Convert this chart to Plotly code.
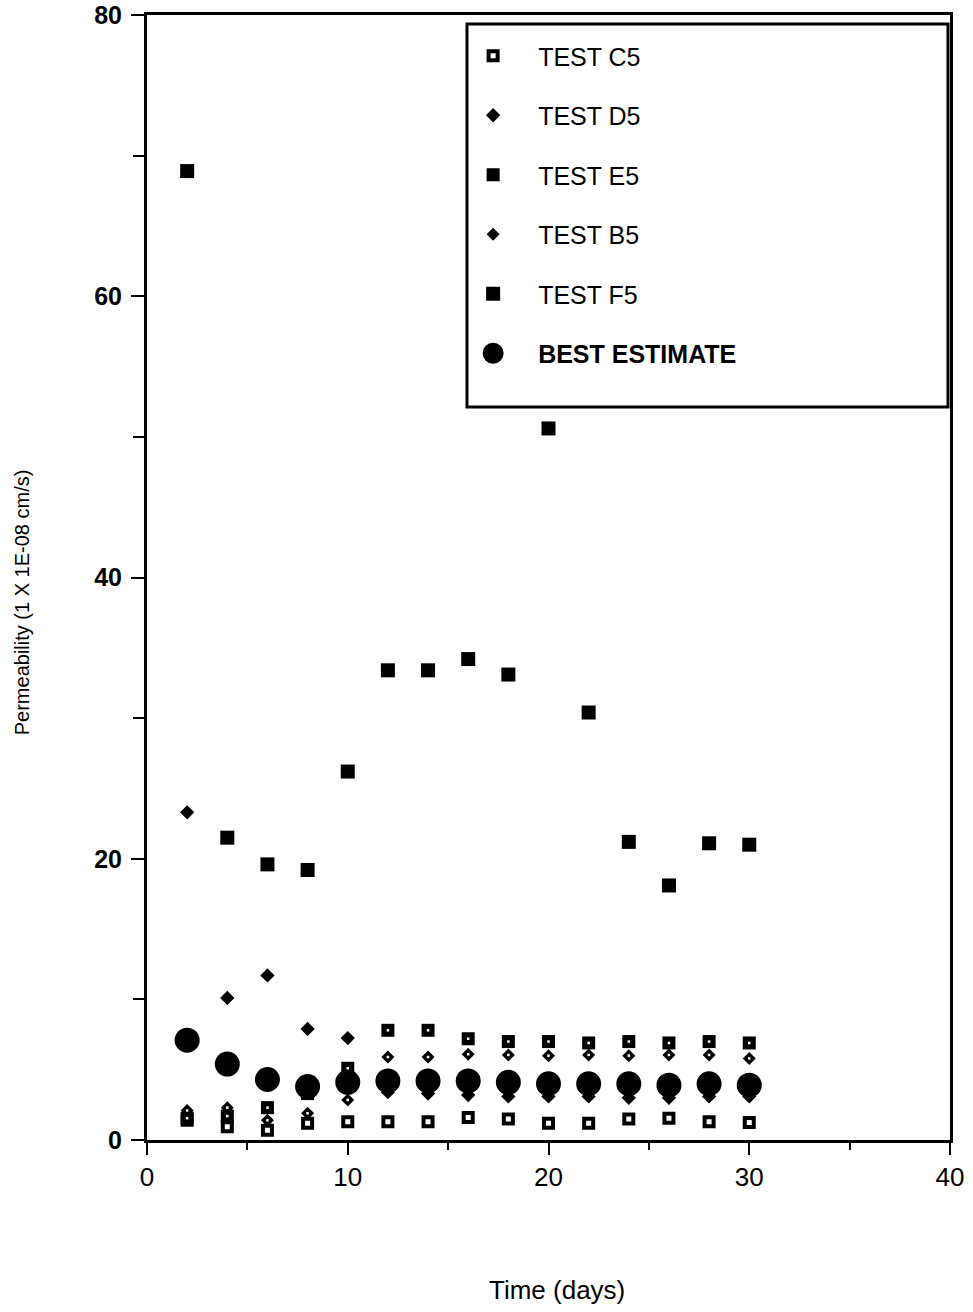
import plotly.graph_objects as go

days = [2, 4, 6, 8, 10, 12, 14, 16, 18, 20, 22, 24, 26, 28, 30]

test_c5 = [1.4, 0.95, 0.7, 1.2, 1.3, 1.3, 1.3, 1.6, 1.5, 1.2, 1.2, 1.5, 1.55, 1.3, 1.25]
test_d5 = [23.3, 10.1, 11.7, 7.9, 7.25, 3.4, 3.3, 3.2, 3.1, 3.1, 3.1, 3.0, 3.0, 3.1, 3.1]
test_e5 = [1.55, 1.7, 2.3, 3.3, 5.1, 7.8, 7.8, 7.2, 7.0, 7.0, 6.9, 7.0, 6.9, 7.0, 6.9]
test_b5 = [2.1, 2.3, 1.4, 1.9, 2.85, 5.9, 5.9, 6.1, 6.05, 6.0, 6.05, 6.0, 6.05, 6.05, 5.8]
test_f5 = [68.9, 21.5, 19.6, 19.2, 26.2, 33.4, 33.4, 34.2, 33.1, 50.6, 30.4, 21.2, 18.1, 21.1, 21.0]
best_estimate = [7.1, 5.4, 4.3, 3.8, 4.1, 4.2, 4.2, 4.2, 4.1, 4.0, 4.0, 4.0, 3.9, 4.0, 3.9]

x_ticks = [0, 10, 20, 30, 40]
y_ticks = [0, 20, 40, 60, 80]

FONT = "Liberation Sans, Arial, Helvetica, sans-serif"

fig = go.Figure()

# (name, values, marker, white centre dot?)
series = [
    ("TEST C5", test_c5, dict(symbol="square-open", size=9, color="black", line=dict(color="black", width=4)), False),
    ("TEST D5", test_d5, dict(symbol="diamond", size=11, color="black", line=dict(width=0)), False),
    ("TEST E5", test_e5, dict(symbol="square", size=13, color="black", line=dict(width=0)), True),
    ("TEST B5", test_b5, dict(symbol="diamond", size=10, color="black", line=dict(width=0)), True),
    ("TEST F5", test_f5, dict(symbol="square", size=14, color="black", line=dict(width=0)), False),
    ("<b>BEST ESTIMATE</b>", best_estimate, dict(symbol="circle", size=20, color="black", line=dict(color="black", width=5)), False),
]

for i, (name, vals, mk, dot) in enumerate(series):
    fig.add_trace(go.Scatter(
        x=days, y=vals, mode="markers", name=name, marker=mk,
        legendgroup=f"g{i}",
    ))
    if dot:
        fig.add_trace(go.Scatter(
            x=days, y=vals, mode="markers", name=name, showlegend=False,
            legendgroup=f"g{i}", hoverinfo="skip",
            marker=dict(symbol="square", size=2.5, color="white", line=dict(width=0)),
        ))

fig.update_layout(
    width=973, height=1312,
    margin=dict(l=147, r=23, t=15, b=172),
    paper_bgcolor="white", plot_bgcolor="white",
    font=dict(family=FONT, color="black", size=24),
    showlegend=True,
    legend=dict(
        x=0.375, y=0.984, xanchor="left", yanchor="top",
        bgcolor="rgba(0,0,0,0)", borderwidth=0,
        font=dict(family=FONT, size=25, color="black"),
        tracegroupgap=24, itemwidth=80, itemsizing="trace",
    ),
    xaxis=dict(
        range=[0, 40], tickvals=x_ticks, ticks="outside", ticklen=12, tickwidth=2,
        tickcolor="black", showline=True, linecolor="black", linewidth=3, mirror=True,
        showgrid=False, zeroline=False, tickfont=dict(size=26), automargin=False,
        minor=dict(dtick=5, ticks="outside", ticklen=7, tickwidth=2, tickcolor="black"),
    ),
    yaxis=dict(
        range=[0, 80], tickvals=y_ticks, ticks="outside", ticklen=13, tickwidth=2,
        tickcolor="black", showline=True, linecolor="black", linewidth=3, mirror=True,
        showgrid=False, zeroline=False, tickfont=dict(size=25, weight="bold"), automargin=False,
        ticklabelstandoff=4,
        minor=dict(dtick=10, ticks="outside", ticklen=11, tickwidth=2, tickcolor="black"),
    ),
    annotations=[
        dict(text="Time (days)", xref="paper", yref="paper", x=0.5106, y=-0.1333,
             xanchor="center", yanchor="middle", showarrow=False, font=dict(size=26)),
        dict(text="Permeability (1 X 1E-08 cm/s)", xref="paper", yref="paper",
             x=(22 - 147) / 803, y=0.478, textangle=-90, xanchor="center", yanchor="middle",
             showarrow=False, font=dict(size=20)),
    ],
    shapes=[dict(
        type="rect", xref="paper", yref="paper",
        x0=0.3985, x1=0.9975, y0=0.6516, y1=0.992,
        line=dict(color="black", width=3), fillcolor="rgba(0,0,0,0)", layer="above",
    )],
)

fig.write_html("out.html")
